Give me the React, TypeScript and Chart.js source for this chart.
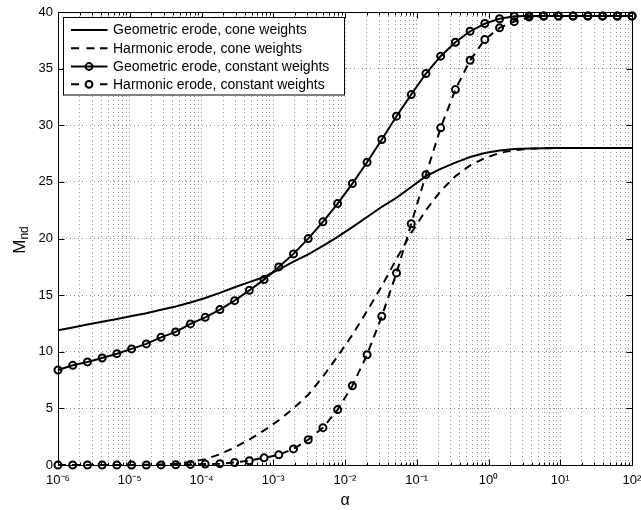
import React, { useEffect, useRef } from "react";
import { Chart, registerables } from "chart.js";

Chart.register(...registerables);

// Sampling grid: 40 log-spaced alpha values from 1e-6 to 1e2 (as in logspace(-6, 2, 40))
const N_POINTS = 40;
const ALPHA_MIN_EXP = -6;
const ALPHA_MAX_EXP = 2;
const alphaValues = Array.from({ length: N_POINTS }, (_, i) =>
  Math.pow(10, ALPHA_MIN_EXP + (i * (ALPHA_MAX_EXP - ALPHA_MIN_EXP)) / (N_POINTS - 1))
);

const seriesLabels = [
  "Geometric erode, cone weights",
  "Harmonic erode, cone weights",
  "Geometric erode, constant weights",
  "Harmonic erode, constant weights",
];

const geometricCone = [
  11.9, 12.15, 12.4, 12.65, 12.9, 13.15, 13.4, 13.7, 14.0, 14.35,
  14.75, 15.2, 15.7, 16.15, 16.6, 17.25, 17.95, 18.6, 19.35, 20.15,
  21.0, 21.9, 22.8, 23.6, 24.55, 25.5, 26.15, 26.7, 27.2, 27.55,
  27.78, 27.9, 27.95, 27.98, 28.0, 28.0, 28.0, 28.0, 28.0, 28.0,
];

const harmonicCone = [
  0, 0, 0, 0, 0, 0.01, 0.02, 0.05, 0.12, 0.27,
  0.52, 0.95, 1.55, 2.25, 3.05, 3.95, 5.0, 6.2, 7.8, 9.6,
  11.5, 13.6, 15.8, 18.2, 20.5, 22.5, 24.2, 25.5, 26.45, 27.1,
  27.55, 27.8, 27.92, 27.97, 28.0, 28.0, 28.0, 28.0, 28.0, 28.0,
];

const geometricConstant = [
  8.39, 8.8, 9.1, 9.45, 9.83, 10.25, 10.69, 11.27, 11.75, 12.46,
  13.04, 13.72, 14.51, 15.42, 16.37, 17.49, 18.64, 19.99, 21.47, 23.08,
  24.85, 26.73, 28.74, 30.8, 32.71, 34.57, 36.1, 37.33, 38.3, 38.98,
  39.4, 39.62, 39.65, 39.65, 39.65, 39.65, 39.65, 39.65, 39.65, 39.65,
];

const harmonicConstant = [
  0, 0, 0, 0, 0, 0, 0, 0.01, 0.02, 0.05,
  0.08, 0.12, 0.22, 0.38, 0.63, 0.9, 1.42, 2.23, 3.3, 4.89,
  7.0, 9.74, 13.13, 16.96, 21.3, 25.64, 29.77, 33.15, 35.74, 37.57,
  38.6, 39.15, 39.55, 39.65, 39.65, 39.65, 39.65, 39.65, 39.65, 39.65,
];

const xDecadeExponents = [-6, -5, -4, -3, -2, -1, 0, 1, 2];
const yTickValues = [0, 5, 10, 15, 20, 25, 30, 35, 40];

const FONT = '"Liberation Sans", Arial, Helvetica, sans-serif';
const SUP: Record<string, string> = {
  "-": "\u207B", "0": "\u2070", "1": "\u00B9", "2": "\u00B2", "3": "\u00B3",
  "4": "\u2074", "5": "\u2075", "6": "\u2076", "7": "\u2077", "8": "\u2078", "9": "\u2079",
};
const sup = (n: number) => String(n).split("").map((c) => SUP[c] ?? c).join("");

const DASH = [8, 6];

const styles = [
  { dash: [] as number[], marker: false },
  { dash: DASH, marker: false },
  { dash: [] as number[], marker: true },
  { dash: DASH, marker: true },
];

function buildXTicks() {
  const vals: { value: number; major: boolean }[] = [];
  xDecadeExponents.forEach((e, idx) => {
    const base = Math.pow(10, e);
    vals.push({ value: base, major: true });
    if (idx < xDecadeExponents.length - 1) {
      for (let m = 2; m <= 9; m++) vals.push({ value: m * base, major: false });
    }
  });
  return vals;
}

const decorPlugin = {
  id: "decor",
  afterDraw(chart: any) {
    const { ctx, chartArea: a, scales } = chart;
    const xs = scales.x;
    const ys = scales.y;
    ctx.save();
    ctx.strokeStyle = "#000";
    ctx.lineWidth = 1;
    ctx.setLineDash([]);
    const L = Math.round(a.left) + 0.5;
    const R = Math.round(a.right) + 0.5;
    const T = Math.round(a.top) + 0.5;
    const B = Math.round(a.bottom) + 0.5;
    ctx.beginPath();
    ctx.rect(L, T, R - L, B - T);
    ctx.stroke();
    ctx.beginPath();
    xs.ticks.forEach((t: any) => {
      const px = Math.round(xs.getPixelForValue(t.value)) + 0.5;
      const len = t.major ? 6 : 3;
      ctx.moveTo(px, B);
      ctx.lineTo(px, B - len);
      ctx.moveTo(px, T);
      ctx.lineTo(px, T + len);
    });
    ys.ticks.forEach((t: any) => {
      const py = Math.round(ys.getPixelForValue(t.value)) + 0.5;
      ctx.moveTo(L, py);
      ctx.lineTo(L + 6, py);
      ctx.moveTo(R, py);
      ctx.lineTo(R - 6, py);
    });
    ctx.stroke();

    // y-axis title M_nd
    ctx.save();
    ctx.translate(25, 240);
    ctx.rotate(-Math.PI / 2);
    ctx.fillStyle = "#000";
    ctx.textBaseline = "alphabetic";
    ctx.font = `17px ${FONT}`;
    const wM = ctx.measureText("M").width;
    ctx.font = `12px ${FONT}`;
    const wS = ctx.measureText("nd").width;
    const start = -(wM + wS) / 2;
    ctx.font = `17px ${FONT}`;
    ctx.fillText("M", start, 0);
    ctx.font = `12px ${FONT}`;
    ctx.fillText("nd", start + wM, 3);
    ctx.restore();

    // legend
    const bx = 63.5, by = 17.5, bw = 281, bh = 77.5;
    ctx.fillStyle = "#fff";
    ctx.fillRect(bx, by, bw, bh);
    ctx.strokeStyle = "#000";
    ctx.lineWidth = 1;
    ctx.strokeRect(bx, by, bw, bh);
    const rowY = [30, 48.3, 66.5, 84.3];
    ctx.font = `14px ${FONT}`;
    ctx.textBaseline = "middle";
    chart.data.datasets.forEach((ds: any, i: number) => {
      const y = rowY[i];
      const st = styles[i];
      ctx.strokeStyle = "#000";
      ctx.lineWidth = 2;
      ctx.beginPath();
      if (st.dash.length) {
        ctx.moveTo(71, y); ctx.lineTo(79, y);
        if (!st.marker) { ctx.moveTo(86.5, y); ctx.lineTo(94.5, y); }
        ctx.moveTo(100, y); ctx.lineTo(107.5, y);
      } else {
        ctx.moveTo(71, y); ctx.lineTo(107.5, y);
      }
      ctx.stroke();
      if (st.marker) {
        ctx.beginPath();
        ctx.arc(89, y, 3.4, 0, Math.PI * 2);
        ctx.stroke();
      }
      ctx.fillStyle = "#000";
      ctx.fillText(ds.label, 113, y + 0.5);
    });
    ctx.restore();
  },
};

export default function App() {
  const ref = useRef<HTMLCanvasElement>(null);
  useEffect(() => {
    if (!ref.current) return;
    Chart.defaults.font.family = FONT;
    Chart.defaults.color = "#000";
    const dataSeries = [geometricCone, harmonicCone, geometricConstant, harmonicConstant];
    const datasets = dataSeries.map((vals, i) => ({
      label: seriesLabels[i],
      data: alphaValues.map((x, k) => ({ x, y: vals[k] })),
      borderColor: "#000",
      backgroundColor: "rgba(0,0,0,0)",
      borderWidth: 2,
      borderDash: styles[i].dash,
      pointRadius: styles[i].marker ? 3.5 : 0,
      pointBorderWidth: 2,
      pointBorderColor: "#000",
      pointBackgroundColor: "rgba(0,0,0,0)",
      pointHoverRadius: 0,
      tension: 0,
      fill: false,
      clip: false as any,
    }));
    const xTicks = buildXTicks();
    const chart = new Chart(ref.current, {
      type: "line",
      data: { datasets },
      options: {
        responsive: false,
        animation: false,
        devicePixelRatio: 1,
        layout: { padding: { top: 12, right: 9, left: 0, bottom: 0 } },
        plugins: { legend: { display: false }, tooltip: { enabled: false } },
        events: [],
        scales: {
          x: {
            type: "logarithmic",
            min: 1e-6,
            max: 1e2,
            afterBuildTicks: (scale: any) => {
              scale.ticks = xTicks.map((t) => ({ ...t }));
            },
            afterFit: (scale: any) => {
              scale.height = 45;
              scale.paddingLeft = 0;
              scale.paddingRight = 0;
            },
            grid: {
              color: "rgba(0,0,0,0.42)",
              lineWidth: 1,
              drawTicks: false,
            },
            border: { display: false, dash: [1, 3] },
            ticks: {
              autoSkip: false,
              maxRotation: 0,
              padding: 8,
              font: { size: 13 },
              callback: (value: any) => {
                const v = Number(value);
                const e = Math.log10(v);
                if (Math.abs(e - Math.round(e)) < 1e-9) return "10" + sup(Math.round(e));
                return "";
              },
            },
            title: {
              display: true,
              text: "\u03B1",
              font: { size: 16 },
              padding: { top: 0, bottom: 0 },
            },
          },
          y: {
            type: "linear",
            min: 0,
            max: 40,
            afterBuildTicks: (scale: any) => {
              scale.ticks = yTickValues.map((v) => ({ value: v }));
            },
            afterFit: (scale: any) => {
              scale.width = 58;
              scale.paddingTop = 0;
              scale.paddingBottom = 0;
            },
            grid: {
              color: "rgba(0,0,0,0.42)",
              lineWidth: 1,
              drawTicks: false,
            },
            border: { display: false, dash: [1, 3] },
            ticks: {
              padding: 5,
              font: { size: 13 },
              callback: (v: any) => String(v),
            },
          },
        },
      },
      plugins: [decorPlugin],
    });
    return () => chart.destroy();
  }, []);
  return (
    <div style={{ position: "fixed", left: 0, top: 0, width: 641, height: 510, background: "#fff" }}>
      <canvas ref={ref} width={641} height={510} />
    </div>
  );
}
